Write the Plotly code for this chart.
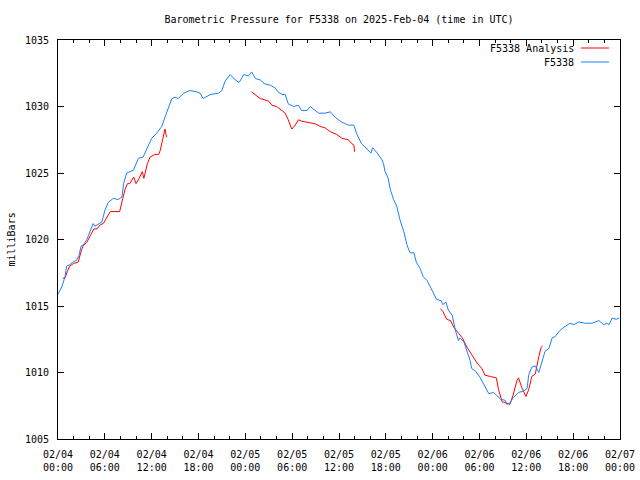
import pandas as pd
import plotly.graph_objects as go

BASE = pd.Timestamp("2025-02-04 00:00")

# F5338 observations: hours after 2025-02-04 00:00 UTC, pressure (mb)
obs_hours = [0.0, 0.5, 0.9, 1.1, 1.5, 1.9, 2.4, 2.7, 2.95, 3.25, 3.7, 4.1, 4.5, 4.7, 5.2, 5.6, 5.8, 6.0,
             6.45, 7.1, 7.7, 8.2, 8.4, 8.8, 9.65, 10.3, 10.9, 11.4, 12.0, 12.65, 13.3, 13.7, 14.1, 14.6,
             15.0, 15.4, 16.1, 16.9, 17.8, 18.2, 18.6, 19.5, 20.55, 21.0, 21.4, 22.05, 22.7, 23.2, 23.8,
             24.4, 24.8, 25.3, 25.9, 26.5, 27.2, 27.8, 28.2, 28.7, 29.1, 29.5, 30.2, 30.8, 31.2, 31.9,
             32.3, 32.95, 33.4, 34.2, 34.9, 35.5, 36.15, 36.8, 37.2, 37.9, 38.3, 38.9, 39.6, 40.1, 40.3,
             40.9, 41.5, 41.7, 41.9, 42.3, 42.6, 43.0, 43.4, 43.8, 44.3, 44.7, 45.1, 45.6, 45.9, 46.4,
             46.8, 47.3, 47.9, 48.5, 49.1, 49.3, 49.7, 50.0, 50.5, 50.9, 51.3, 51.5, 52.0, 52.4, 52.8,
             53.0, 53.5, 54.1, 54.7, 55.2, 55.8, 56.3, 56.7, 57.3, 57.5, 57.9, 58.3, 59.0, 59.65, 60.1,
             60.3, 60.7, 61.15, 61.6, 62.0, 62.4, 62.9, 63.3, 63.7, 64.2, 64.8, 65.6, 66.1, 66.7, 67.6,
             68.4, 69.3, 69.9, 70.3, 70.6, 71.0, 71.5, 71.9]
obs_vals = [1015.9, 1016.45, 1017.2, 1018.0, 1018.1, 1018.3, 1018.45, 1018.8, 1019.5, 1019.6, 1020.0,
            1020.6, 1021.2, 1021.0, 1021.2, 1021.3, 1021.7, 1022.2, 1022.8, 1023.1, 1023.0, 1023.2,
            1024.2, 1025.0, 1025.2, 1026.1, 1026.2, 1026.9, 1027.6, 1028.0, 1028.5, 1029.2, 1029.9,
            1030.6, 1030.7, 1030.6, 1031.0, 1031.2, 1031.1, 1031.0, 1030.6, 1030.9, 1031.0, 1031.2,
            1031.9, 1032.4, 1032.0, 1031.8, 1032.4, 1032.3, 1032.6, 1032.1, 1032.0, 1031.7, 1031.6,
            1031.4, 1031.1, 1030.9, 1030.9, 1030.2, 1030.0, 1030.1, 1029.7, 1029.7, 1030.0, 1029.7,
            1029.5, 1029.5, 1029.6, 1029.2, 1028.9, 1028.7, 1028.6, 1028.6, 1027.9, 1027.2, 1026.8,
            1026.5, 1026.9, 1026.5, 1026.0, 1025.7, 1025.1, 1024.6, 1023.7, 1023.0, 1022.5, 1021.5,
            1020.6, 1019.6, 1019.0, 1019.0, 1018.3, 1017.8, 1017.2, 1016.9, 1016.2, 1015.5, 1015.4,
            1015.1, 1015.3, 1014.7, 1014.3, 1013.2, 1012.4, 1012.6, 1012.3, 1011.6, 1010.9, 1010.3,
            1010.1, 1009.6, 1008.9, 1008.4, 1008.5, 1008.2, 1008.0, 1007.9, 1007.6, 1007.7, 1008.1,
            1008.5, 1008.6, 1008.8, 1009.8, 1010.4, 1010.5, 1010.0, 1010.8, 1011.6, 1011.8, 1012.6,
            1012.7, 1013.1, 1013.4, 1013.7, 1013.6, 1013.8, 1013.7, 1013.7, 1013.9, 1013.6, 1013.7,
            1013.6, 1014.1, 1014.0, 1014.1]

# F5338 Analysis: three segments
ana1_hours = [0.6, 0.9, 1.2, 1.5, 2.0, 2.6, 2.9, 3.2, 3.7, 4.1, 4.6, 5.0, 5.4, 5.8, 6.2, 6.7, 7.3, 7.9,
              8.3, 8.6, 8.9, 9.2, 9.7, 10.0, 10.4, 10.8, 11.0, 11.45, 11.8, 12.4, 12.9, 13.1, 13.4,
              13.7, 13.9]
ana1_vals = [1017.1, 1017.1, 1017.6, 1018.0, 1018.2, 1018.3, 1019.0, 1019.5, 1019.8, 1020.3, 1020.8,
             1020.8, 1021.1, 1021.2, 1021.6, 1022.1, 1022.1, 1022.1, 1023.1, 1023.8, 1024.2, 1024.2,
             1024.7, 1024.2, 1024.6, 1025.1, 1024.6, 1025.7, 1026.2, 1026.4, 1026.4, 1026.7, 1027.5,
             1028.3, 1027.7]
ana2_hours = [24.8, 25.3, 25.9, 26.5, 27.0, 27.4, 28.0, 28.7, 29.1, 29.5, 29.7, 29.95, 30.4, 30.8,
              31.2, 31.9, 32.95, 33.6, 34.2, 34.9, 35.7, 36.4, 37.2, 37.65, 37.9, 38.0]
ana2_vals = [1031.1, 1030.9, 1030.6, 1030.5, 1030.4, 1030.1, 1030.0, 1029.7, 1029.5, 1029.0, 1028.7,
             1028.3, 1028.6, 1029.0, 1028.9, 1028.8, 1028.7, 1028.5, 1028.4, 1028.1, 1027.9, 1027.6,
             1027.5, 1027.2, 1027.1, 1026.6]
ana3_hours = [49.0, 49.3, 49.8, 50.3, 50.7, 51.1, 51.8, 52.4, 53.0, 53.7, 54.3, 54.7, 55.4, 56.15,
              56.45, 56.9, 57.5, 57.9, 58.3, 58.8, 59.0, 59.4, 59.95, 60.3, 60.7, 61.15, 61.6, 61.9,
              62.1]
ana3_vals = [1014.8, 1014.6, 1014.0, 1013.9, 1013.4, 1013.1, 1012.6, 1011.9, 1011.3, 1010.7, 1010.3,
             1009.8, 1009.7, 1009.6, 1008.7, 1007.8, 1007.7, 1007.6, 1008.3, 1009.4, 1009.6, 1008.9,
             1008.2, 1008.7, 1009.7, 1009.9, 1011.2, 1011.9, 1012.0]

tick_hours = list(range(0, 73, 6))
tick_labels = ["02/04<br>00:00", "02/04<br>06:00", "02/04<br>12:00", "02/04<br>18:00",
               "02/05<br>00:00", "02/05<br>06:00", "02/05<br>12:00", "02/05<br>18:00",
               "02/06<br>00:00", "02/06<br>06:00", "02/06<br>12:00", "02/06<br>18:00",
               "02/07<br>00:00"]
y_ticks = [1005, 1010, 1015, 1020, 1025, 1030, 1035]


def to_time(hours):
    return [BASE + pd.Timedelta(hours=h) for h in hours]


ana_x = to_time(ana1_hours) + [None] + to_time(ana2_hours) + [None] + to_time(ana3_hours)
ana_y = ana1_vals + [None] + ana2_vals + [None] + ana3_vals

RED = "#ff0000"
BLUE = "#1a80ff"
FONT = "DejaVu Sans Mono"

fig = go.Figure()
fig.add_trace(go.Scatter(x=ana_x, y=ana_y, mode="lines", name="F5338 Analysis",
                         line=dict(color=RED, width=1), connectgaps=False))
fig.add_trace(go.Scatter(x=to_time(obs_hours), y=obs_vals, mode="lines", name="F5338",
                         line=dict(color=BLUE, width=1)))

W, H = 640, 480
L, T = 58, 40
PR, PB = 620, 439  # plot right / bottom in pixels
R, B = W - PR, H - PB
pw, ph = PR - L, PB - T


def px_x(x):
    return (x - L) / pw


def px_y(y):
    return 1 - (y - T) / ph


fig.update_layout(
    width=W, height=H,
    margin=dict(l=L, r=R, t=T, b=B, autoexpand=False),
    paper_bgcolor="white", plot_bgcolor="white",
    showlegend=False,
    font=dict(family=FONT, size=10, color="black"),
    title=dict(text="Barometric Pressure for F5338 on 2025-Feb-04 (time in UTC)",
               x=px_x(339), xanchor="center", xref="paper",
               y=1 - 19 / H, yanchor="middle", yref="container",
               font=dict(family=FONT, size=10, color="black")),
    xaxis=dict(type="date", range=[BASE, BASE + pd.Timedelta(hours=72)],
               tickmode="array", tickvals=to_time(tick_hours), ticktext=tick_labels,
               ticks="inside", ticklen=6, tickcolor="black", tickwidth=1,
               showline=True, linecolor="black", linewidth=1, mirror="ticks",
               showgrid=False, zeroline=False, automargin=False, ticklabelstandoff=6,
               minor=dict(tickmode="linear", tick0=BASE, dtick=2 * 3600 * 1000,
                          ticks="inside", ticklen=3, tickcolor="black", showgrid=False),
               tickfont=dict(family=FONT, size=10, color="black")),
    yaxis=dict(range=[1005, 1035], tickmode="array", tickvals=y_ticks,
               ticks="inside", ticklen=6, tickcolor="black", tickwidth=1,
               showline=True, linecolor="black", linewidth=1, mirror="ticks",
               showgrid=False, zeroline=False, automargin=False, ticklabelstandoff=6,
               tickfont=dict(family=FONT, size=10, color="black")),
)

fig.add_annotation(text="milliBars", textangle=-90, x=px_x(11), y=0.5, xref="paper", yref="paper",
                   xanchor="center", yanchor="middle", showarrow=False,
                   font=dict(family=FONT, size=10, color="black"))

legend_items = [("F5338 Analysis", RED, 48), ("F5338", BLUE, 62)]
for text, color, ypix in legend_items:
    fig.add_annotation(text=text, x=px_x(576), y=px_y(ypix), xref="paper", yref="paper",
                       xanchor="right", yanchor="middle", showarrow=False,
                       font=dict(family=FONT, size=10, color="black"))
    fig.add_shape(type="line", xref="paper", yref="paper", x0=px_x(581), x1=px_x(609),
                  y0=px_y(ypix), y1=px_y(ypix), line=dict(color=color, width=1))

# remove the default 8px page margin so the 640x480 figure fills the window exactly
fig.write_html("out.html",
               config={"displayModeBar": False},
               post_script="document.body.style.margin='0px';document.body.style.overflow='hidden';")
